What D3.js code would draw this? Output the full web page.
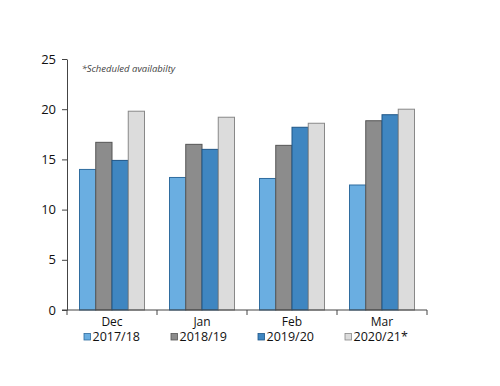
<!DOCTYPE html>
<html>
<head>
<meta charset="utf-8">
<script src="https://cdn.jsdelivr.net/npm/d3@7"></script>
<style>
body { margin: 0; background: #fff; }
text { font-family: 'Open Sans', 'DejaVu Sans', sans-serif; fill: #111; }
</style>
</head>
<body>
<svg width="500" height="386"></svg>
<script>
var months = ['Dec', 'Jan', 'Feb', 'Mar'];
var seasons = ['2017/18', '2018/19', '2019/20', '2020/21*'];
var v1718 = [14.0, 13.2, 13.1, 12.45];
var v1819 = [16.7, 16.5, 16.4, 18.85];
var v1920 = [14.9, 16.0, 18.2, 19.45];
var v2021 = [19.8, 19.2, 18.6, 20.0];
var yTicks = [0, 5, 10, 15, 20, 25];

var fills = ['#6aaee1', '#8c8c8c', '#3f86c1', '#dcdcdc'];
var strokes = ['#2f6c9f', '#555555', '#1f5687', '#888888'];

var series = [v1718, v1819, v1920, v2021];

var svg = d3.select('svg');
var padding = {t: 59, l: 67, r: 73, b: 76};
var w = 500 - padding.l - padding.r;
var h = 386 - padding.t - padding.b;

var g = svg.append('g')
    .attr('transform', 'translate(' + padding.l + ',' + padding.t + ')');

var x = d3.scaleBand().domain(months).range([0, w]).paddingInner(0).paddingOuter(0);
var xInner = d3.scaleBand().domain(seasons).range([12.5, x.bandwidth() - 12.5]);
var y = d3.scaleLinear().domain([0, 25]).range([h, 0]);

// bars
months.forEach(function(m, i){
    var grp = g.append('g').attr('transform', 'translate(' + x(m) + ',0)');
    seasons.forEach(function(s, j){
        grp.append('rect')
            .attr('x', xInner(s))
            .attr('y', y(series[j][i]))
            .attr('width', xInner.bandwidth())
            .attr('height', h - y(series[j][i]))
            .style('fill', fills[j])
            .style('stroke', strokes[j])
            .style('stroke-width', '1px');
    });
});

// y axis
var yAxis = g.append('g')
    .call(d3.axisLeft(y).tickValues(yTicks).tickSize(5).tickSizeOuter(0));
yAxis.select('.domain').style('stroke', '#444');
yAxis.selectAll('line').style('stroke', '#444');
yAxis.selectAll('text').style('font-size', '13px').attr('x', -11);

// x axis
var xTicks = months.map(function(m){ return x(m); }).concat([w]);
var xAxis = g.append('g').attr('transform', 'translate(0,' + h + ')');
xAxis.append('line')
    .attr('x1', -5).attr('x2', w)
    .style('stroke', '#444');
xAxis.selectAll('.tk')
    .data(xTicks)
    .enter().append('line')
    .attr('x1', function(d){ return d; })
    .attr('x2', function(d){ return d; })
    .attr('y1', 0).attr('y2', 5)
    .style('stroke', '#444');
xAxis.selectAll('.lbl')
    .data(months)
    .enter().append('text')
    .attr('text-anchor', 'middle')
    .attr('x', function(d){ return x(d) + x.bandwidth() / 2; })
    .attr('y', 16)
    .style('font-size', '12px')
    .text(function(d){ return d; });

// note
g.append('text')
    .attr('x', 14.5)
    .attr('y', 12.5)
    .style('font-size', '9.5px')
    .style('font-style', 'italic')
    .style('fill', '#444')
    .text('*Scheduled availabilty');

// legend
var legendX = [84, 171, 258, 345];
var legend = svg.append('g').attr('transform', 'translate(0,337)');
seasons.forEach(function(s, j){
    var item = legend.append('g').attr('transform', 'translate(' + legendX[j] + ',0)');
    item.append('rect')
        .attr('x', 0).attr('y', -3.5)
        .attr('width', 6.5).attr('height', 6.5)
        .style('fill', fills[j])
        .style('stroke', strokes[j])
        .style('stroke-width', '0.8px');
    item.append('text')
        .attr('x', 8.5)
        .attr('y', 3.5)
        .style('font-size', '12.5px')
        .text(s);
});
</script>
</body>
</html>
